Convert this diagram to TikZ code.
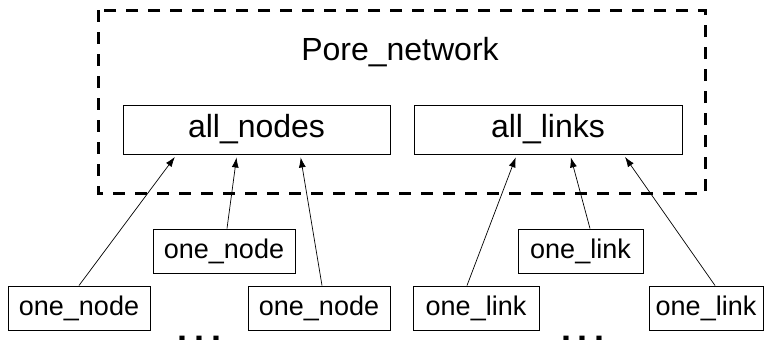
\documentclass[tikz,border=0pt]{standalone}
\usepackage{fontspec}
\setmainfont{Liberation Sans}
\usetikzlibrary{calc, positioning, arrows.meta}

\begin{document}
\begin{tikzpicture}[
    x=0.5pt, y=-0.5pt,
    big/.style={font=\fontsize{16}{19}\selectfont},
    group/.style={draw, line width=0.5pt, rectangle, big, minimum height=24.5pt, inner sep=0pt},
    item/.style={draw, line width=0.5pt, rectangle, font=\fontsize{13.5}{16}\selectfont, minimum height=22pt, inner sep=0pt},
    netbox/.style={draw, line width=1.5pt, dash pattern=on 6pt off 5pt},
    arrow/.style={-{Latex[length=5pt, width=3.5pt]}, line width=0.35pt, shorten >=1.5pt}
]
\useasboundingbox (0,0) rectangle (765,339);

\draw[netbox] (98,10) rectangle (705,193);
\node[big] (net) at (400,52) {Pore\_network};
\node[group, minimum width=133.5pt] (allnodes) at (256.5,129.5) {all\_nodes};
\node[group, minimum width=134pt] (alllinks) at (548,129.5) {all\_links};

\node[item, minimum width=71pt] (nm) at (224,251) {one\_node};
\node[item, minimum width=71pt] (nl) at (79,308) {one\_node};
\node[item, minimum width=71pt] (nr) at (319,308) {one\_node};
\node[item, minimum width=62.5pt] (lm) at (580.5,251) {one\_link};
\node[item, minimum width=63pt] (ll) at (476,308) {one\_link};
\node[item, minimum width=57pt] (lr) at (706,308) {one\_link};

\node[anchor=base, font=\fontsize{18}{18}\selectfont\bfseries] (dotsl) at (200,341) {.\hspace{3.5pt}.\hspace{3.5pt}.};
\node[anchor=base, font=\fontsize{18}{18}\selectfont\bfseries] (dotsr) at (583,341) {.\hspace{3.5pt}.\hspace{3.5pt}.};

\draw[arrow] (nl.north) -- ($(allnodes.south west)!0.202!(allnodes.south east)$);
\draw[arrow] ([xshift=1.5pt]nm.north) -- ($(allnodes.south west)!0.427!(allnodes.south east)$);
\draw[arrow] ([xshift=1.5pt]nr.north) -- ($(allnodes.south west)!0.663!(allnodes.south east)$);
\draw[arrow] ([xshift=-4.5pt]ll.north) -- ($(alllinks.south west)!0.384!(alllinks.south east)$);
\draw[arrow] ([xshift=4.75pt]lm.north) -- ($(alllinks.south west)!0.582!(alllinks.south east)$);
\draw[arrow] ([xshift=4.5pt]lr.north) -- ($(alllinks.south west)!0.78!(alllinks.south east)$);

\end{tikzpicture}
\end{document}
